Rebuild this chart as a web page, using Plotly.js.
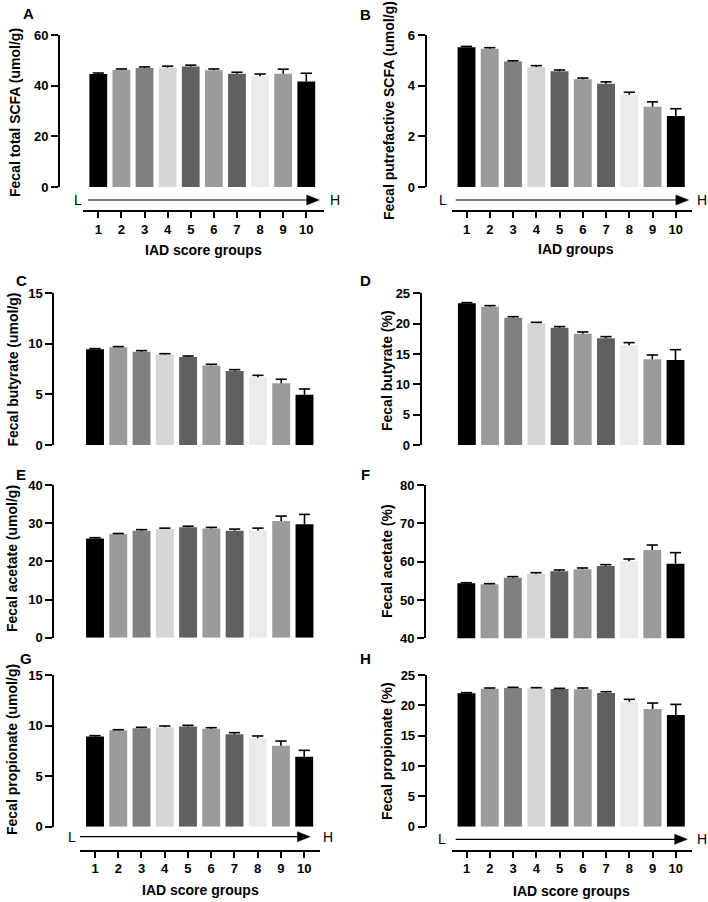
<!DOCTYPE html>
<html>
<head>
<meta charset="utf-8">
<script src="https://cdn.plot.ly/plotly-3.0.1.min.js"></script>
<style>html,body{margin:0;padding:0;background:#fff;}#chart{width:708px;height:902px;}</style>
</head>
<body>
<div id="chart"></div>
<script>
// ---- data ----
const groups = [1, 2, 3, 4, 5, 6, 7, 8, 9, 10];
const groupLabels = ['1', '2', '3', '4', '5', '6', '7', '8', '9', '10'];
const barColors = ['#000000', '#9b9b9b', '#808080', '#d6d6d6', '#606060', '#9b9b9b', '#606060', '#ebebeb', '#9b9b9b', '#000000'];

const totalSCFA = [44.6, 46.3, 47.0, 47.2, 47.6, 46.1, 44.7, 43.7, 44.7, 41.6];
const totalSCFAErr = [0.4, 0.3, 0.4, 0.5, 0.5, 0.5, 0.6, 0.9, 1.8, 3.3];
const putrefactive = [5.52, 5.46, 4.95, 4.74, 4.57, 4.25, 4.08, 3.64, 3.17, 2.80];
const putrefactiveErr = [0.03, 0.04, 0.03, 0.05, 0.05, 0.05, 0.07, 0.10, 0.19, 0.29];
const butyrate = [9.46, 9.66, 9.23, 8.94, 8.70, 7.85, 7.32, 6.69, 6.10, 4.98];
const butyrateErr = [0.07, 0.07, 0.10, 0.09, 0.10, 0.13, 0.13, 0.20, 0.40, 0.56];
const butyratePct = [23.35, 22.80, 20.99, 20.05, 19.34, 18.35, 17.58, 16.43, 14.12, 14.01];
const butyratePctErr = [0.11, 0.17, 0.16, 0.17, 0.17, 0.28, 0.28, 0.44, 0.72, 1.70];
const acetate = [26.0, 27.15, 28.0, 28.45, 28.9, 28.6, 28.0, 28.1, 30.55, 29.7];
const acetateErr = [0.2, 0.15, 0.3, 0.25, 0.3, 0.3, 0.45, 0.6, 1.3, 2.6];
const acetatePct = [54.35, 54.1, 55.83, 56.87, 57.48, 58.0, 58.87, 60.09, 63.04, 59.48];
const acetatePctErr = [0.15, 0.16, 0.26, 0.26, 0.35, 0.35, 0.35, 0.6, 1.3, 2.87];
const propionate = [8.93, 9.53, 9.73, 9.83, 9.92, 9.69, 9.13, 8.74, 8.01, 6.92];
const propionateErr = [0.07, 0.06, 0.10, 0.13, 0.10, 0.10, 0.17, 0.23, 0.46, 0.63];
const propionatePct = [21.98, 22.75, 22.86, 22.80, 22.69, 22.64, 22.03, 20.6, 19.40, 18.41];
const propionatePctErr = [0.11, 0.11, 0.11, 0.11, 0.11, 0.22, 0.22, 0.39, 0.98, 1.75];

// ---- layout helpers (pixel -> paper) ----
const W = 708, H = 902;
const P = px => px / W;
const Q = py => 1 - py / H;

const FONT = 'Arial, "Liberation Sans", Helvetica, sans-serif';

const panels = [
  {letter: 'A', lx: 28, ly: 14, y: totalSCFA, e: totalSCFAErr, yr: [0, 60], dt: 20, top: 35, bot: 187, ax: 59,
   c1: 98.3, c10: 306.3, L: 83.3, R: 324, title: 'Fecal total SCFA (umol/g)', tx: 15, ty: 113,
   xaxisY: 211, xt: 'IAD score groups', xtx: 203.5, xty: 250, arr: {y: 200, x0: 88, x1: 319.3, L: 77.7, H: 335}},
  {letter: 'B', lx: 366, ly: 15, y: putrefactive, e: putrefactiveErr, yr: [0, 6], dt: 2, top: 35, bot: 187, ax: 425.7,
   c1: 466.5, c10: 675.8, L: 451.7, R: 691.7, title: 'Fecal putrefactive SCFA (umol/g)', tx: 389, ty: 111,
   xaxisY: 211, xt: 'IAD groups', xtx: 575.6, xty: 249, arr: {y: 200, x0: 455.7, x1: 688.5, L: 443.3, H: 702.3}},
  {letter: 'C', lx: 21, ly: 280, y: butyrate, e: butyrateErr, yr: [0, 15], dt: 5, top: 293.3, bot: 445, ax: 53.3,
   c1: 95, c10: 304.5, L: 80, R: 320, title: 'Fecal butyrate (umol/g)', tx: 12, ty: 369.5},
  {letter: 'D', lx: 365, ly: 280, y: butyratePct, e: butyratePctErr, yr: [0, 25], dt: 5, top: 293.3, bot: 445, ax: 420.7,
   c1: 466.85, c10: 675.5, L: 451.7, R: 691.7, title: 'Fecal butyrate (%)', tx: 387, ty: 371},
  {letter: 'E', lx: 21, ly: 474, y: acetate, e: acetateErr, yr: [0, 40], dt: 10, top: 485, bot: 637.7, ax: 53.3,
   c1: 95, c10: 304.5, L: 80, R: 320, title: 'Fecal acetate (umol/g)', tx: 12, ty: 559},
  {letter: 'F', lx: 365, ly: 474, y: acetatePct, e: acetatePctErr, yr: [40, 80], dt: 10, top: 485, bot: 638.3, ax: 425,
   c1: 466.3, c10: 675.5, L: 451.7, R: 691.7, title: 'Fecal acetate (%)', tx: 387, ty: 561},
  {letter: 'G', lx: 26, ly: 658.5, y: propionate, e: propionateErr, yr: [0, 15], dt: 5, top: 675, bot: 826.7, ax: 53.3,
   c1: 95, c10: 304.2, L: 80, R: 320, title: 'Fecal propionate (umol/g)', tx: 12, ty: 750,
   xaxisY: 850.7, xt: 'IAD score groups', xtx: 200.8, xty: 890, arr: {y: 836.7, x0: 80, x1: 310, L: 71.7, H: 328.3}},
  {letter: 'H', lx: 366, ly: 658, y: propionatePct, e: propionatePctErr, yr: [0, 25], dt: 5, top: 675, bot: 826.7, ax: 425.7,
   c1: 466.5, c10: 675.85, L: 451.7, R: 691.7, title: 'Fecal propionate (%)', tx: 387, ty: 751,
   xaxisY: 850.7, xt: 'IAD score groups', xtx: 571.5, xty: 891, arr: {y: 839.3, x0: 455.7, x1: 687.3, L: 442.3, H: 702.3}}
];

const traces = [];
const layout = {
  width: W, height: H,
  margin: {l: 0, r: 0, t: 0, b: 0},
  paper_bgcolor: '#ffffff', plot_bgcolor: 'rgba(0,0,0,0)',
  showlegend: false,
  font: {family: FONT, color: '#000'},
  annotations: [], shapes: []
};

panels.forEach((p, i) => {
  const n = i + 1;
  const xa = n === 1 ? 'x' : 'x' + n;
  const ya = n === 1 ? 'y' : 'y' + n;
  const s = (p.c10 - p.c1) / 9;
  traces.push({
    type: 'bar', x: groups, y: p.y, xaxis: xa, yaxis: ya,
    width: 0.77,
    marker: {color: barColors, line: {width: 0}},
    hoverinfo: 'skip'
  });
  // upper-only error bars (SEM): cap marker at mean+err, stem down to mean
  traces.push({
    type: 'scatter', mode: 'markers', x: groups, y: p.y.map((v, k) => v + p.e[k]),
    xaxis: xa, yaxis: ya,
    marker: {symbol: 'line-ew', size: 8, color: '#000', line: {color: '#000', width: 1.6}},
    error_y: {type: 'data', array: groups.map(() => 0), arrayminus: p.e, symmetric: false,
              color: '#000', thickness: 1.6, width: 0},
    cliponaxis: false, hoverinfo: 'skip'
  });
  const hasX = p.xaxisY !== undefined;
  layout[n === 1 ? 'xaxis' : 'xaxis' + n] = {
    domain: [P(p.L), P(p.R)],
    range: [1 - (p.c1 - p.L) / s, 10 + (p.R - p.c10) / s],
    anchor: 'free', position: hasX ? Q(p.xaxisY) : Q(p.bot),
    visible: hasX,
    showline: hasX, linewidth: 2, linecolor: '#000',
    ticks: hasX ? 'outside' : '', ticklen: 6, tickwidth: 2, tickcolor: '#000',
    tickvals: groups, ticktext: groupLabels,
    tickfont: {family: FONT, size: 13, weight: 'bold', color: '#000'},
    showgrid: false, zeroline: false, fixedrange: true
  };
  layout[n === 1 ? 'yaxis' : 'yaxis' + n] = {
    domain: [Q(p.bot), Q(p.top)],
    range: p.yr, dtick: p.dt, tick0: 0,
    anchor: 'free', position: P(p.ax),
    showline: true, linewidth: 2, linecolor: '#000',
    ticks: 'outside', ticklen: 7, tickwidth: 2, tickcolor: '#000',
    tickfont: {family: FONT, size: 13, weight: 'bold', color: '#000'},
    showgrid: false, zeroline: false, fixedrange: true
  };
  // panel letter
  layout.annotations.push({xref: 'paper', yref: 'paper', x: P(p.lx), y: Q(p.ly), text: p.letter,
    showarrow: false, xanchor: 'center', yanchor: 'middle',
    font: {family: FONT, size: 15, weight: 'bold', color: '#000'}});
  // y title
  layout.annotations.push({xref: 'paper', yref: 'paper', x: P(p.tx), y: Q(p.ty), text: p.title,
    showarrow: false, xanchor: 'center', yanchor: 'middle', textangle: -90,
    font: {family: FONT, size: 14, weight: 'bold', color: '#000'}});
  if (hasX) {
    layout.annotations.push({xref: 'paper', yref: 'paper', x: P(p.xtx), y: Q(p.xty), text: p.xt,
      showarrow: false, xanchor: 'center', yanchor: 'middle',
      font: {family: FONT, size: 14, weight: 'bold', color: '#000'}});
    const a = p.arr;
    layout.shapes.push({type: 'line', xref: 'paper', yref: 'paper',
      x0: P(a.x0), x1: P(a.x1 - 11), y0: Q(a.y), y1: Q(a.y), line: {color: '#000', width: 1.2}});
    layout.shapes.push({type: 'path', xref: 'paper', yref: 'paper',
      path: 'M ' + P(a.x1 - 12.6) + ',' + Q(a.y - 5) + ' L ' + P(a.x1) + ',' + Q(a.y) +
            ' L ' + P(a.x1 - 12.6) + ',' + Q(a.y + 5) + ' Z',
      fillcolor: '#000', line: {color: '#000', width: 0.5}});
    layout.annotations.push({xref: 'paper', yref: 'paper', x: P(a.L), y: Q(a.y), text: 'L',
      showarrow: false, xanchor: 'center', yanchor: 'middle',
      font: {family: FONT, size: 14, color: '#000'}});
    layout.annotations.push({xref: 'paper', yref: 'paper', x: P(a.H), y: Q(a.y), text: 'H',
      showarrow: false, xanchor: 'center', yanchor: 'middle',
      font: {family: FONT, size: 14, color: '#000'}});
  }
});

Plotly.newPlot('chart', traces, layout, {displayModeBar: false, staticPlot: true});
</script>
</body>
</html>
